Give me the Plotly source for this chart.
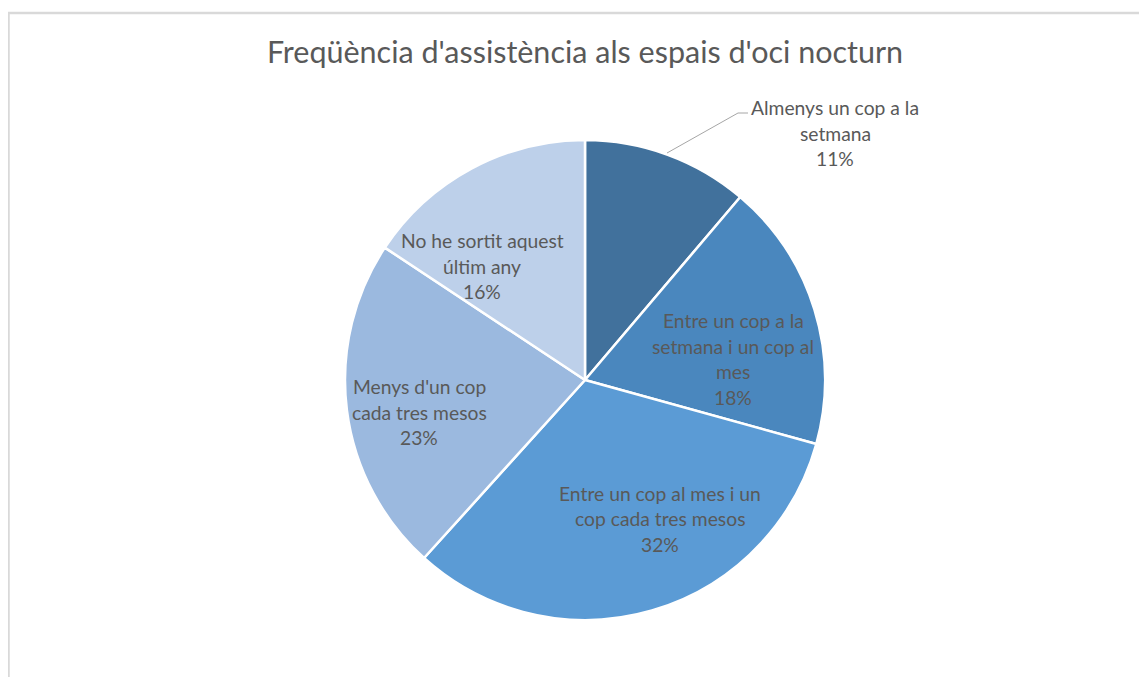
import plotly.graph_objects as go

W, H = 1147, 677
OFF = 8  # page body margin offset

categories = [
    "Almenys un cop a la setmana",
    "Entre un cop a la setmana i un cop al mes",
    "Entre un cop al mes i un cop cada tres mesos",
    "Menys d'un cop cada tres mesos",
    "No he sortit aquest últim any",
]
values = [11.2, 18.1, 32.4, 22.6, 15.7]
label_lines = [
    ["Almenys un cop a la", "setmana"],
    ["Entre un cop a la", "setmana i un cop al", "mes"],
    ["Entre un cop al mes i un", "cop cada tres mesos"],
    ["Menys d'un cop", "cada tres mesos"],
    ["No he sortit aquest", "últim any"],
]
colors = ["#41719C", "#4A87BE", "#5B9BD5", "#9BB9DF", "#BDD0EA"]

# label block centres (pixels in the screenshot)
label_pos = [(835, 133), (733, 359), (660, 519), (419, 412), (482, 266)]
LINE_H = 25.5
FONT = "Lato, 'Open Sans', sans-serif"
TXT = "#595959"


def px(x, y):
    return (x - OFF) / W, 1 - (y - OFF) / H


cx, cy, r = 585, 380, 240
fig = go.Figure(go.Pie(
    labels=categories,
    values=values,
    sort=False,
    direction="clockwise",
    rotation=0,
    textinfo="none",
    hoverinfo="label+percent",
    marker=dict(colors=colors, line=dict(color="white", width=2.5)),
    domain=dict(x=[(cx - r - OFF) / W, (cx + r - OFF) / W],
                y=[1 - (cy + r - OFF) / H, 1 - (cy - r - OFF) / H]),
    showlegend=False,
))

total = sum(values)
annotations = []
for lines, v, (lx, ly) in zip(label_lines, values, label_pos):
    all_lines = lines + [f"{round(100 * v / total)}%"]
    n = len(all_lines)
    for i, t in enumerate(all_lines):
        yy = ly + (i - (n - 1) / 2) * LINE_H
        ax, ay = px(lx, yy)
        annotations.append(dict(
            text=t, x=ax, y=ay, xref="paper", yref="paper",
            showarrow=False, xanchor="center", yanchor="middle",
            font=dict(family=FONT, size=19.3, color=TXT),
        ))

# leader line for first slice
p1 = px(667, 153)
p2 = px(738, 113)
p3 = px(748, 113)
# frame
f0 = px(8.5, 13)
tx, ty = px(cx, 52)

fig.update_layout(
    width=W, height=H,
    margin=dict(l=0, r=0, t=0, b=0),
    paper_bgcolor="white",
    plot_bgcolor="white",
    title=dict(
        text="Freqüència d'assistència als espais d'oci nocturn",
        x=tx, xanchor="center", y=ty, yanchor="middle",
        yref="container", xref="paper",
        font=dict(family=FONT, size=30.5, color=TXT),
    ),
    annotations=annotations,
    shapes=[
        dict(type="path", xref="paper", yref="paper",
             path=f"M {p1[0]} {p1[1]} L {p2[0]} {p2[1]} L {p3[0]} {p3[1]}",
             line=dict(color="#A6A6A6", width=1)),
        dict(type="rect", xref="paper", yref="paper",
             x0=f0[0], y0=-0.05, x1=1.05, y1=f0[1],
             line=dict(color="#D9D9D9", width=2.5)),
    ],
)

fig.write_html("out.html")
